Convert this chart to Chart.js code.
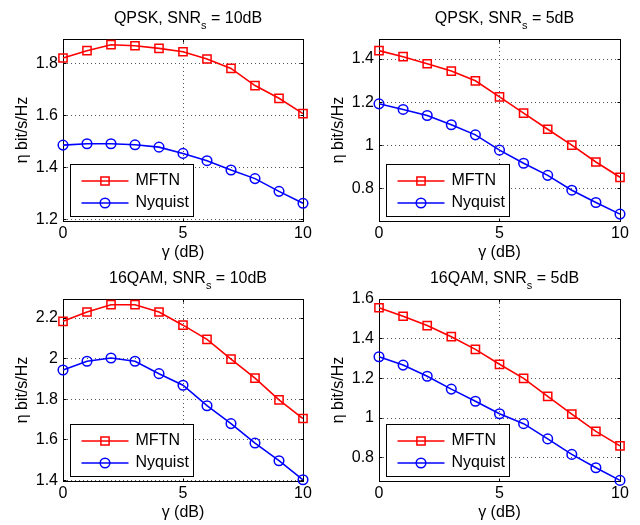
<!DOCTYPE html>
<html><head><meta charset="utf-8">
<script src="https://cdn.jsdelivr.net/npm/chart.js@4/dist/chart.umd.min.js"></script>
<style>
html,body{margin:0;padding:0;background:#fff;width:640px;height:525px;overflow:hidden;position:relative}
canvas{position:absolute}
</style></head><body>
<canvas id="c1"></canvas><canvas id="c2"></canvas><canvas id="c3"></canvas><canvas id="c4"></canvas>
<script>
// ---------- data ----------
const gamma = [0, 1, 2, 3, 4, 5, 6, 7, 8, 9, 10];
const seriesNames = ['MFTN', 'Nyquist'];
const xLabel = 'γ (dB)';
const yLabel = 'η bit/s/Hz';
const xTicks = [0, 5, 10];
const xTickLabels = ['0', '5', '10'];

const qpsk10Title = ['QPSK, SNR', 's', ' = 10dB'];
const qpsk10MFTN = [1.823, 1.851, 1.874, 1.870, 1.860, 1.847, 1.819, 1.783, 1.717, 1.668, 1.609];
const qpsk10Nyquist = [1.488, 1.493, 1.493, 1.489, 1.480, 1.456, 1.428, 1.392, 1.359, 1.310, 1.264];
const qpsk10YTicks = [1.2, 1.4, 1.6, 1.8];
const qpsk10YTickLabels = ['1.2', '1.4', '1.6', '1.8'];
const qpsk10YRange = [1.196, 1.896];

const qpsk5Title = ['QPSK, SNR', 's', ' = 5dB'];
const qpsk5MFTN = [1.439, 1.411, 1.378, 1.344, 1.299, 1.224, 1.149, 1.074, 1.000, 0.922, 0.851];
const qpsk5Nyquist = [1.192, 1.166, 1.138, 1.095, 1.048, 0.977, 0.916, 0.860, 0.791, 0.734, 0.680];
const qpsk5YTicks = [0.8, 1, 1.2, 1.4];
const qpsk5YTickLabels = ['0.8', '1', '1.2', '1.4'];
const qpsk5YRange = [0.648, 1.493];

const qam10Title = ['16QAM, SNR', 's', ' = 10dB'];
const qam10MFTN = [2.184, 2.230, 2.266, 2.266, 2.230, 2.165, 2.095, 1.998, 1.904, 1.797, 1.705];
const qam10Nyquist = [1.944, 1.987, 2.003, 1.987, 1.926, 1.869, 1.768, 1.680, 1.584, 1.497, 1.403];
const qam10YTicks = [1.4, 1.6, 1.8, 2, 2.2];
const qam10YTickLabels = ['1.4', '1.6', '1.8', '2', '2.2'];
const qam10YRange = [1.397, 2.294];

const qam5Title = ['16QAM, SNR', 's', ' = 5dB'];
const qam5MFTN = [1.556, 1.513, 1.466, 1.410, 1.346, 1.271, 1.200, 1.109, 1.020, 0.933, 0.860];
const qam5Nyquist = [1.309, 1.267, 1.211, 1.146, 1.085, 1.022, 0.972, 0.895, 0.817, 0.750, 0.686];
const qam5YTicks = [0.8, 1, 1.2, 1.4, 1.6];
const qam5YTickLabels = ['0.8', '1', '1.2', '1.4', '1.6'];
const qam5YRange = [0.683, 1.600];

// ---------- layout (absolute page pixels) ----------
const FONT = "'Liberation Sans', Arial, Helvetica, sans-serif";
const layouts = {
  c1: {cl: 0,   ct: 0,   cw: 320, ch: 265, pl: 63,  pt: 39,  pr: 303, pb: 221},
  c2: {cl: 320, ct: 0,   cw: 320, ch: 265, pl: 379, pt: 39,  pr: 620, pb: 221},
  c3: {cl: 0,   ct: 260, cw: 320, ch: 265, pl: 63,  pt: 299, pr: 303, pb: 481},
  c4: {cl: 320, ct: 260, cw: 320, ch: 265, pl: 379, pt: 299, pr: 620, pb: 481}
};

const panels = [
  {id: 'c1', title: qpsk10Title, a: qpsk10MFTN, b: qpsk10Nyquist, yt: qpsk10YTicks, ytl: qpsk10YTickLabels, yr: qpsk10YRange},
  {id: 'c2', title: qpsk5Title, a: qpsk5MFTN, b: qpsk5Nyquist, yt: qpsk5YTicks, ytl: qpsk5YTickLabels, yr: qpsk5YRange},
  {id: 'c3', title: qam10Title, a: qam10MFTN, b: qam10Nyquist, yt: qam10YTicks, ytl: qam10YTickLabels, yr: qam10YRange},
  {id: 'c4', title: qam5Title, a: qam5MFTN, b: qam5Nyquist, yt: qam5YTicks, ytl: qam5YTickLabels, yr: qam5YRange}
];

const matlabPlugin = {
  id: 'matlab',
  beforeDatasetsDraw(chart, args, o) {
    const {ctx, chartArea: a} = chart;
    const xs = chart.scales.x, ys = chart.scales.y;
    ctx.save();
    ctx.strokeStyle = '#000';
    ctx.lineWidth = 1;
    const L = Math.floor(a.left) + 0.5, R = Math.floor(a.right) + 0.5;
    const T = Math.floor(a.top) + 0.5, B = Math.floor(a.bottom) + 0.5;
    ctx.strokeRect(L, T, R - L, B - T);
    const tl = 3;
    ctx.beginPath();
    xs.ticks.forEach(t => {
      const px = Math.floor(xs.getPixelForValue(t.value)) + 0.5;
      ctx.moveTo(px, B); ctx.lineTo(px, B - tl);
      ctx.moveTo(px, T); ctx.lineTo(px, T + tl);
    });
    ys.ticks.forEach(t => {
      const py = Math.floor(ys.getPixelForValue(t.value)) + 0.5;
      ctx.moveTo(L, py); ctx.lineTo(L + tl, py);
      ctx.moveTo(R, py); ctx.lineTo(R - tl, py);
    });
    ctx.stroke();
    ctx.restore();
  },
  afterDatasetsDraw(chart, args, o) {
    const {ctx, chartArea: a} = chart;
    const bw = 123, bh = 52;
    const bx = Math.floor(a.left + 7) + 0.5;
    const by = Math.floor(a.bottom - 4.5 - bh) + 0.5;
    ctx.save();
    ctx.fillStyle = '#fff';
    ctx.fillRect(bx, by, bw, bh);
    ctx.strokeStyle = '#000';
    ctx.lineWidth = 1;
    ctx.strokeRect(bx, by, bw, bh);
    const rows = [by + 16, by + 38];
    chart.data.datasets.forEach((ds, i) => {
      const y = Math.round(rows[i]);
      ctx.strokeStyle = ds.borderColor;
      ctx.lineWidth = ds.borderWidth;
      ctx.beginPath();
      ctx.moveTo(bx + 11, y); ctx.lineTo(bx + 58, y);
      ctx.stroke();
      ctx.fillStyle = 'rgba(0,0,0,0)';
      ctx.lineWidth = ds.pointBorderWidth;
      Chart.helpers.drawPoint(ctx, {pointStyle: ds.pointStyle, radius: ds.pointRadius, borderWidth: ds.pointBorderWidth, rotation: 0}, bx + 34.5, y);
      ctx.fillStyle = '#000';
      ctx.font = '16px ' + FONT;
      ctx.textAlign = 'left';
      ctx.textBaseline = 'middle';
      ctx.fillText(ds.label, bx + 65, y);
    });
    ctx.restore();
  },
  afterDraw(chart, args, o) {
    const {ctx, chartArea: a} = chart;
    const parts = o.title;
    ctx.save();
    ctx.fillStyle = '#000';
    ctx.textBaseline = 'alphabetic';
    ctx.textAlign = 'left';
    const big = '16px ' + FONT, small = '11px ' + FONT;
    ctx.font = big; const w1 = ctx.measureText(parts[0]).width;
    ctx.font = small; const w2 = ctx.measureText(parts[1]).width;
    ctx.font = big; const w3 = ctx.measureText(parts[2]).width;
    const cx = (a.left + a.right) / 2 + 5;
    let x = cx - (w1 + w2 + w3) / 2;
    const base = a.top - 16;
    ctx.font = big; ctx.fillText(parts[0], x, base); x += w1;
    ctx.font = small; ctx.fillText(parts[1], x, base + 6); x += w2;
    ctx.font = big; ctx.fillText(parts[2], x, base);
    ctx.restore();
  }
};

Chart.defaults.font.family = FONT;
Chart.defaults.font.size = 16;
Chart.defaults.color = '#000';

function pts(arr) { return gamma.map((g, i) => ({x: g, y: arr[i]})); }

panels.forEach(p => {
  const L = layouts[p.id];
  const cv = document.getElementById(p.id);
  cv.width = L.cw; cv.height = L.ch;
  cv.style.left = L.cl + 'px'; cv.style.top = L.ct + 'px';
  cv.style.width = L.cw + 'px'; cv.style.height = L.ch + 'px';
  const relL = L.pl - L.cl, relT = L.pt - L.ct, relR = L.pr - L.cl, relB = L.pb - L.ct;
  new Chart(cv, {
    type: 'line',
    data: {
      datasets: [
        {label: seriesNames[0], data: pts(p.a), borderColor: '#ff0000', borderWidth: 1.6,
         pointStyle: 'rect', pointRadius: 5.8, pointBorderWidth: 1.5, pointBorderColor: '#ff0000',
         pointBackgroundColor: 'rgba(0,0,0,0)', fill: false, tension: 0, clip: false},
        {label: seriesNames[1], data: pts(p.b), borderColor: '#0000ff', borderWidth: 1.6,
         pointStyle: 'circle', pointRadius: 4.8, pointBorderWidth: 1.5, pointBorderColor: '#0000ff',
         pointBackgroundColor: 'rgba(0,0,0,0)', fill: false, tension: 0, clip: false}
      ]
    },
    options: {
      responsive: false,
      animation: false,
      events: [],
      devicePixelRatio: 1,
      layout: {padding: {left: 0, top: relT, right: L.cw - relR, bottom: 0}},
      plugins: {
        legend: {display: false},
        tooltip: {enabled: false},
        title: {display: false},
        matlab: {title: p.title}
      },
      scales: {
        x: {
          type: 'linear', min: 0, max: 10,
          afterBuildTicks: s => { s.ticks = xTicks.map(v => ({value: v})); },
          afterFit: s => { s.height = L.ch - relB; },
          ticks: {callback: (v, i) => xTickLabels[i], padding: 3, maxRotation: 0, autoSkip: false, font: {size: 16}},
          grid: {color: '#555', lineWidth: 1, drawTicks: false},
          border: {display: false, dash: [1, 3]},
          title: {display: true, text: xLabel, font: {size: 16, lineHeight: 1},
                  padding: {top: 0, bottom: L.ch - relB - 32 - 8}}
        },
        y: {
          type: 'linear', min: p.yr[0], max: p.yr[1],
          afterBuildTicks: s => { s.ticks = p.yt.map(v => ({value: v})); },
          afterFit: s => { s.width = relL; },
          ticks: {callback: (v, i) => p.ytl[i], padding: 5, autoSkip: false, font: {size: 16}},
          grid: {color: '#555', lineWidth: 1, drawTicks: false},
          border: {display: false, dash: [1, 3]},
          title: {display: true, text: yLabel, font: {size: 16, lineHeight: 1},
                  padding: {top: relL - 48, bottom: 0}}
        }
      }
    },
    plugins: [matlabPlugin]
  });
});
</script>
</body></html>
